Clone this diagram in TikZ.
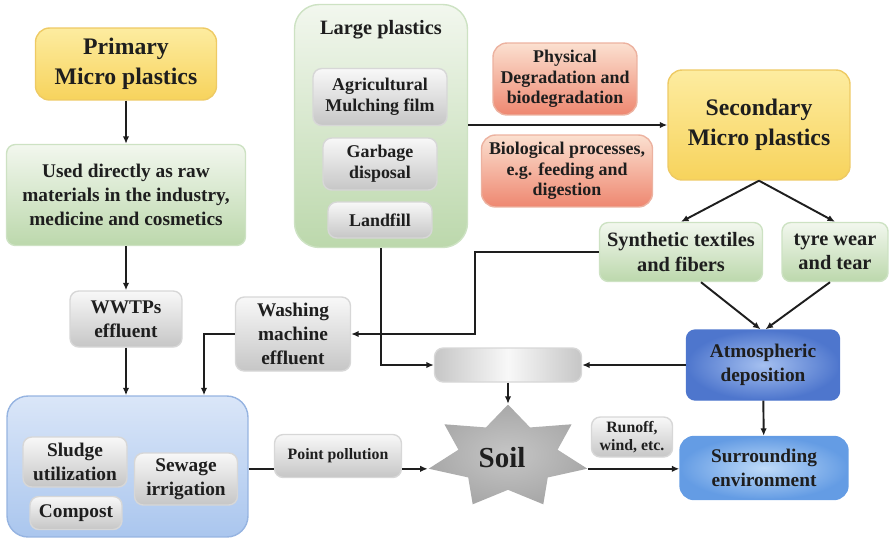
\documentclass[tikz,border=0pt]{standalone}
\usepackage{fontspec}
\setmainfont{Liberation Serif}
\usetikzlibrary{shapes.geometric,arrows.meta,positioning,calc}
\definecolor{ink}{RGB}{30,30,30}
\definecolor{yeltop}{RGB}{253,236,160}
\definecolor{yelbot}{RGB}{247,211,92}
\definecolor{yelline}{RGB}{238,202,100}
\definecolor{grntop}{RGB}{242,247,238}
\definecolor{grnbot}{RGB}{188,216,172}
\definecolor{grnline}{RGB}{205,226,195}
\definecolor{graytop}{RGB}{248,248,248}
\definecolor{graybot}{RGB}{198,198,198}
\definecolor{grayline}{RGB}{215,215,215}
\definecolor{redtop}{RGB}{251,224,208}
\definecolor{redbot}{RGB}{238,135,112}
\definecolor{redline}{RGB}{236,178,160}
\definecolor{blutop}{RGB}{218,230,248}
\definecolor{blubot}{RGB}{170,198,238}
\definecolor{bluline}{RGB}{150,180,225}
\definecolor{atmoedge}{RGB}{78,118,205}
\definecolor{atmomid}{RGB}{165,192,240}
\definecolor{surredge}{RGB}{100,156,228}
\definecolor{surrmid}{RGB}{190,218,248}
\tikzset{
  box/.style      = {rounded corners=5pt, draw, line width=0.8pt, align=center,
                     inner sep=2pt, text=ink},
  yelbox/.style   = {box, rounded corners=8pt, draw=yelline, top color=yeltop, bottom color=yelbot},
  grnbox/.style   = {box, draw=grnline, top color=grntop, bottom color=grnbot},
  graybox/.style  = {box, draw=grayline, top color=graytop, bottom color=graybot},
  redbox/.style   = {box, rounded corners=8pt, draw=redline, top color=redtop, bottom color=redbot},
  bluebox/.style  = {box, draw=bluline, top color=blutop, bottom color=blubot},
  darkblue/.style = {box, draw=atmoedge, inner color=atmomid, outer color=atmoedge},
  litblue/.style  = {box, rounded corners=8pt, draw=surredge, inner color=surrmid, outer color=surredge},
  graybar/.style  = {box, draw=grayline, left color=graybot, right color=graybot, middle color=graytop},
  soilstar/.style = {star, star points=7, star point ratio=1.6, minimum size=2.1cm, inner sep=0pt,
                     draw=none, inner color=gray!45, outer color=gray!68},
  soiltext/.style = {text=ink, font=\bfseries\fontsize{16.5}{19}\selectfont},
  tbig/.style     = {font=\bfseries\fontsize{13.5}{17}\selectfont},
  tlarge/.style   = {font=\bfseries\fontsize{11.6}{14}\selectfont},
  tmid/.style     = {font=\bfseries\fontsize{11}{13.6}\selectfont},
  tsmall/.style   = {font=\bfseries\fontsize{10.2}{11.8}\selectfont},
  ttiny/.style    = {font=\bfseries\fontsize{9}{10.5}\selectfont},
  flow/.style     = {-{Latex[length=1.5mm,width=1.3mm]}, line width=1.1pt, draw=ink},
  link/.style     = {line width=1.1pt, draw=ink},
}
\begin{document}
\begin{tikzpicture}[x=0.02cm, y=-0.02cm]
\useasboundingbox (0,0) rectangle (889,538);
\node[yelbox, tbig, minimum width=3.62cm, minimum height=1.44cm] (prim) at (126,64) {Primary\\Micro plastics};
\node[grnbox, tmid, minimum width=4.78cm, minimum height=2.02cm] (used) at (126,195)
  {Used directly as raw\\materials in the industry,\\medicine and cosmetics};
\node[graybox, tmid, minimum width=2.24cm, minimum height=1.12cm] (wwtp) at (126,319) {WWTPs\\effluent};
\node[graybox, tmid, minimum width=2.3cm, minimum height=1.48cm] (wash) at (293,334) {Washing\\machine\\effluent};
\node[bluebox, rounded corners=12pt, minimum width=4.82cm, minimum height=2.82cm] (sewbox) at (127.5,466.5) {};
\node[graybox, tmid, minimum width=2.08cm, minimum height=1cm] (sludge) at (75,462) {Sludge\\utilization};
\node[graybox, tmid, minimum width=1.84cm, minimum height=0.66cm] (compost) at (76,513) {Compost};
\node[graybox, tmid, minimum width=2.06cm, minimum height=1.04cm] (sewage) at (186,479) {Sewage\\irrigation};
\node[graybox, ttiny, minimum width=2.54cm, minimum height=0.86cm] (pp) at (338,456) {Point pollution};
\node[soilstar, xscale=1.55] (soil) at (508,457) {};
\node[soiltext] (soillab) at (502,458) {Soil};
\node[graybar, minimum width=2.94cm, minimum height=0.68cm] (bar) at (508,365) {};
\node[darkblue, tmid, minimum width=3.06cm, minimum height=1.4cm] (atmo) at (763,365) {Atmospheric\\deposition};
\node[litblue, tmid, minimum width=3.36cm, minimum height=1.26cm] (surr) at (764,468) {Surrounding\\environment};
\node[graybox, ttiny, minimum width=1.62cm, minimum height=0.8cm] (runoff) at (632,437) {Runoff,\\wind, etc.};
\node[grnbox, rounded corners=14pt, minimum width=3.46cm, minimum height=4.86cm,
  label={[tlarge, text=ink, anchor=north, yshift=-0.2cm]north:Large plastics}] (large) at (381,126) {};
\node[graybox, tsmall, minimum width=2.68cm, minimum height=1.14cm] (agri) at (380,97) {Agricultural\\Mulching film};
\node[graybox, tsmall, minimum width=2.28cm, minimum height=1.04cm] (garb) at (380,164) {Garbage\\disposal};
\node[graybox, tsmall, minimum width=2.08cm, minimum height=0.72cm] (land) at (380,220) {Landfill};
\node[redbox, tsmall, minimum width=2.88cm, minimum height=1.44cm] (phys) at (565,79) {Physical\\Degradation and\\biodegradation};
\node[redbox, tsmall, minimum width=3.42cm, minimum height=1.44cm] (bio) at (567,171) {Biological processes,\\e.g. feeding and\\digestion};
\node[yelbox, tbig, minimum width=3.64cm, minimum height=2.2cm] (sec) at (759,125) {Secondary\\Micro plastics};
\node[grnbox, tlarge, minimum width=3.26cm, minimum height=1.18cm] (syn) at (681,252) {Synthetic textiles\\and fibers};
\node[grnbox, tlarge, minimum width=2.12cm, minimum height=1.18cm] (tyre) at (835,252) {tyre wear\\and tear};
\coordinate (sbend) at (475,252);
\coordinate (wbend) at (204,334);
\draw[flow] (prim) -- (used);
\draw[flow] (used) -- (wwtp);
\draw[flow] (wwtp) -- (wwtp |- sewbox.north);
\draw[flow] (large.east |- sec) -- (sec.west);
\draw[flow] (sec.south) -- (syn.north);
\draw[flow] (sec.south) -- (tyre.north);
\draw[flow] ([xshift=0.4cm]syn.south) -- ([xshift=-0.05cm]atmo.north);
\draw[flow] ([xshift=-0.1cm]tyre.south) -- ([xshift=0.05cm]atmo.north);
\draw[flow] (syn.west) -- (sbend) |- (wash.east);
\draw[flow] (wash.west) -- (wbend) -- (wbend |- sewbox.north);
\draw[flow] (large.south) |- (bar.west);
\draw[flow] (atmo.west) -- (bar.east);
\draw[flow] (bar.south) -- (soil.outer point 1);
\draw[link] (sewbox.east |- soil.outer point 3) -- (pp.west |- soil.outer point 3);
\draw[flow] (pp.east |- soil.outer point 3) -- (soil.outer point 3);
\draw[flow] (soil.outer point 6) -- (surr.west |- soil.outer point 6);
\draw[flow] (atmo) -- (surr);
\end{tikzpicture}
\end{document}
